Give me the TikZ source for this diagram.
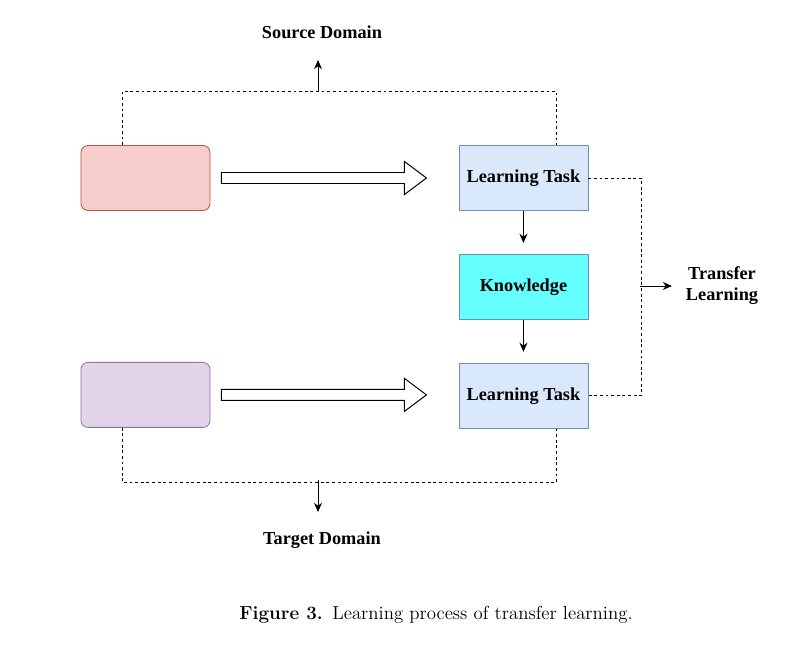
\documentclass[tikz,border=0pt]{standalone}
\usepackage{fontspec}
\newfontfamily\timesfont{Liberation Serif}
\usetikzlibrary{arrows.meta, positioning, calc}
\definecolor{srcred}{RGB}{248,206,204}
\definecolor{srcredline}{RGB}{184,84,80}
\definecolor{tgtpurple}{RGB}{225,213,231}
\definecolor{tgtpurpleline}{RGB}{150,115,166}
\definecolor{taskblue}{RGB}{218,232,252}
\definecolor{taskblueline}{RGB}{108,142,191}
\definecolor{knowcyan}{RGB}{102,255,255}
\tikzset{
  domainbox/.style={rectangle, minimum width=3.225cm, minimum height=1.625cm, rounded corners=5pt, line width=0.6pt},
  task/.style={rectangle, minimum width=3.225cm, minimum height=1.625cm, align=center, draw=taskblueline, fill=taskblue, font=\timesfont\bfseries\fontsize{13}{15}\selectfont, line width=0.6pt},
  lbltext/.style={align=center, font=\timesfont\bfseries\fontsize{13}{15}\selectfont},
  arrow/.style={-{Stealth[length=2.3mm, width=2mm]}, line width=0.7pt},
  dashline/.style={line width=0.6pt, dash pattern=on 2pt off 2pt},
  hollow/.style={draw, fill=white, line width=0.7pt},
}
\begin{document}
\begin{tikzpicture}[x=0.025cm, y=-0.025cm]
\useasboundingbox (0,0) rectangle (808,644);
\node (src)  [domainbox, fill=srcred, draw=srcredline] at (145.5,178) {};
\node (tgt)  [domainbox, fill=tgtpurple, draw=tgtpurpleline, below=3.775cm of src] {};
\node (lt1)  [task, right=6.2cm of src] {Learning Task};
\node (know) [task, fill=knowcyan, below=1.075cm of lt1] {Knowledge};
\node (lt2)  [task, below=1.075cm of know] {Learning Task};
% big hollow arrows
\draw[hollow] ($(src.east)+(11,5.5)$) -- ++(183,0) -- ++(0,11) -- ++(22,-16.5) -- ++(-22,-16.5) -- ++(0,11) -- ++(-183,0) -- cycle;
\draw[hollow] ($(tgt.east)+(11,5.5)$) -- ++(183,0) -- ++(0,11) -- ++(22,-16.5) -- ++(-22,-16.5) -- ++(0,11) -- ++(-183,0) -- cycle;
\draw[arrow, shorten >=0.275cm] (lt1.south) -- (know.north);
\draw[arrow, shorten >=0.275cm] (know.south) -- (lt2.north);
% domains
\node (srcLbl) [lbltext] at (322,32) {Source Domain};
\node (tgtLbl) [lbltext] at (322,540) {Target Domain};
\draw[dashline] ($(src.north west)+(42,0)$) |- ($(lt1.north)+(33,-54)$) -- ($(lt1.north)+(33,0)$);
\draw[dashline] ($(tgt.south west)+(42,0)$) |- ($(lt2.south)+(33,54)$) -- ($(lt2.south)+(33,0)$);
\coordinate (srcMid) at (318,92);
\coordinate (srcUp) at (318,60);
\coordinate (tgtMid) at (318,480);
\coordinate (tgtDown) at (318,512);
\draw[arrow] (srcMid) -- (srcUp);
\draw[arrow] (tgtMid) -- (tgtDown);
% transfer learning
\draw[dashline] (lt1.east) -- ++(53,0) |- (lt2.east);
\node (trLbl) [lbltext] at (722,286) {Transfer\\Learning};
\coordinate (trMid) at (640,286);
\coordinate (trEnd) at (672,286);
\draw[arrow] (trMid) -- (trEnd);
% caption
\node (cap) at (436,615) {\fontsize{13.4}{15}\selectfont\textbf{Figure 3.}\enspace Learning process of transfer learning.};
\end{tikzpicture}
\end{document}
